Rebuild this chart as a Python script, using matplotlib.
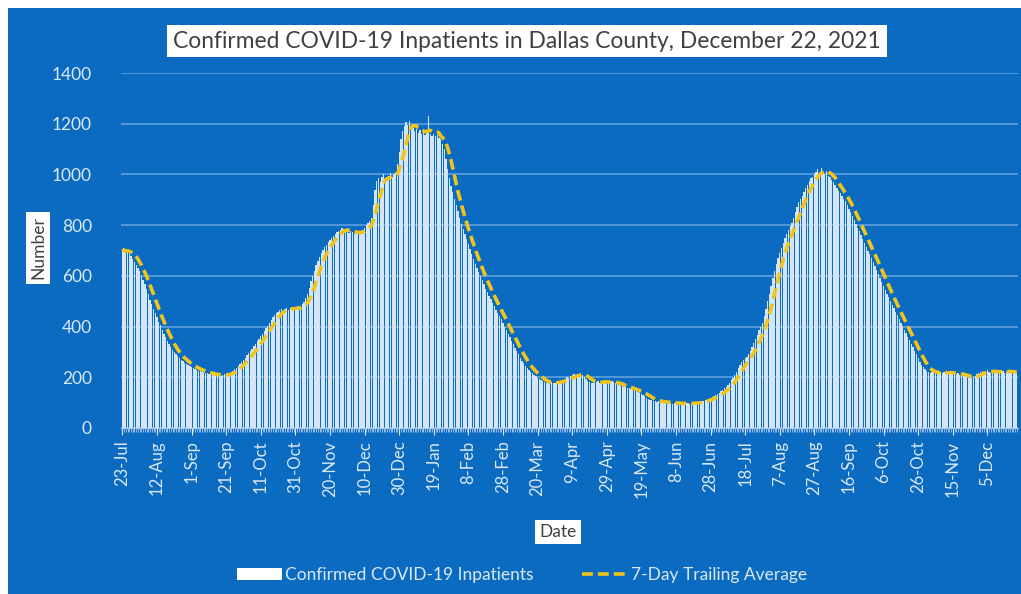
import pandas as pd
import matplotlib.pyplot as plt
from matplotlib.patches import Patch, Rectangle
from matplotlib.lines import Line2D
from matplotlib.ticker import MultipleLocator

plt.rcParams['font.family'] = ['Lato', 'DejaVu Sans']

# daily confirmed inpatients, 23-Jul-2020 .. 22-Dec-2021 (20 days per row)
inpatients = [
    705, 698, 690, 702, 688, 680, 668, 655, 642, 630, 618, 600, 585, 566, 548, 530, 505, 488, 470, 452,
    436, 420, 405, 388, 372, 358, 344, 330, 318, 308, 298, 290, 282, 276, 270, 264, 258, 252, 248, 244,
    240, 236, 232, 230, 226, 224, 222, 220, 218, 216, 214, 212, 212, 210, 208, 210, 208, 206, 210, 212,
    210, 214, 218, 222, 226, 232, 238, 246, 254, 262, 270, 278, 286, 295, 303, 312, 322, 332, 342, 350,
    362, 372, 384, 394, 402, 414, 424, 436, 446, 452, 458, 466, 470, 462, 470, 474, 466, 472, 478, 470,
    468, 476, 480, 474, 488, 498, 512, 530, 552, 578, 600, 620, 642, 660, 676, 690, 702, 714, 722, 732,
    742, 750, 758, 766, 772, 778, 782, 790, 786, 780, 774, 770, 778, 772, 766, 770, 768, 776, 772, 780,
    790, 800, 808, 818, 830, 880, 940, 975, 985, 970, 990, 1000, 985, 975, 995, 1005, 990, 1000, 1010, 1040,
    1090, 1140, 1170, 1190, 1205, 1195, 1210, 1190, 1185, 1170, 1180, 1165, 1175, 1160, 1170, 1155, 1165, 1230, 1160, 1150,
    1160, 1150, 1155, 1145, 1140, 1120, 1100, 1060, 1020, 985, 955, 930, 905, 880, 855, 830, 805, 785, 765, 745,
    725, 705, 685, 665, 648, 630, 614, 598, 582, 566, 550, 536, 522, 508, 494, 480, 466, 452, 440, 428,
    414, 400, 386, 372, 358, 344, 330, 316, 302, 290, 278, 266, 256, 246, 238, 230, 222, 216, 210, 204,
    198, 192, 188, 184, 180, 176, 178, 174, 180, 176, 178, 182, 186, 184, 190, 188, 194, 200, 196, 204,
    208, 212, 206, 214, 210, 216, 208, 200, 192, 186, 180, 176, 178, 182, 180, 184, 178, 182, 186, 180,
    184, 178, 182, 186, 180, 176, 172, 170, 166, 168, 162, 160, 158, 156, 152, 150, 148, 146, 142, 140,
    136, 132, 126, 120, 116, 112, 110, 108, 106, 104, 106, 102, 104, 100, 98, 102, 100, 98, 96, 100,
    98, 96, 100, 94, 98, 96, 100, 98, 94, 96, 100, 98, 102, 104, 100, 106, 108, 110, 112, 116,
    120, 122, 126, 130, 134, 138, 144, 150, 156, 162, 170, 178, 188, 198, 210, 222, 236, 248, 260, 270,
    276, 280, 290, 305, 320, 335, 350, 365, 385, 400, 414, 440, 470, 500, 530, 560, 590, 620, 645, 670,
    690, 710, 730, 750, 765, 780, 795, 810, 830, 850, 870, 890, 905, 915, 930, 945, 960, 975, 985, 990,
    1000, 1010, 1020, 1005, 1025, 1010, 1000, 1015, 995, 990, 980, 970, 960, 945, 935, 925, 915, 905, 895, 880,
    865, 850, 835, 820, 805, 790, 775, 760, 745, 730, 715, 700, 685, 670, 655, 640, 625, 608, 592, 576,
    560, 545, 530, 515, 500, 486, 472, 458, 444, 430, 416, 402, 388, 374, 360, 346, 332, 318, 304, 290,
    276, 262, 250, 240, 232, 226, 222, 218, 220, 216, 222, 218, 214, 220, 216, 222, 218, 214, 220, 216,
    218, 214, 212, 216, 210, 206, 212, 204, 200, 198, 202, 196, 200, 206, 212, 218, 222, 226, 220, 224,
    228, 222, 218, 224, 226, 220, 216, 222, 228, 224, 218, 222, 226, 220, 218, 224, 222, 216,
]

tick_labels = ['23-Jul', '12-Aug', '1-Sep', '21-Sep', '11-Oct', '31-Oct', '20-Nov', '10-Dec',
               '30-Dec', '19-Jan', '8-Feb', '28-Feb', '20-Mar', '9-Apr', '29-Apr', '19-May',
               '8-Jun', '28-Jun', '18-Jul', '7-Aug', '27-Aug', '16-Sep', '6-Oct', '26-Oct',
               '15-Nov', '5-Dec']

df = pd.DataFrame({"Inpatients": inpatients})
df["Avg7"] = df["Inpatients"].rolling(7, min_periods=1).mean()

bg = "#0b6bc1"
txt = "#dbe8f6"

fig = plt.figure(figsize=(10.21, 5.94), dpi=100, facecolor="white")
fig.patches.append(Rectangle((8 / 1021, 0), 1, 1 - 8 / 594, transform=fig.transFigure,
                             facecolor=bg, edgecolor="none", zorder=-10))

ax = fig.add_axes([121 / 1021, 1 - 428 / 594, (1018 - 121) / 1021, (428 - 73) / 594])
ax.set_facecolor(bg)

x = range(len(df))
ax.bar(x, df["Inpatients"], width=0.75, color="#d4e5f7", linewidth=0, zorder=2)
ax.plot(x, df["Avg7"], color="#f0c419", lw=2.6, linestyle=(0, (3, 1.4)), zorder=3)

ax.set_ylim(0, 1400)
ax.set_xlim(-0.8, len(df) - 0.3)
ax.yaxis.set_major_locator(MultipleLocator(200))
ax.grid(axis="y", color="#5d9fe0", lw=1.2, zorder=1)
ax.set_axisbelow(True)

ax.set_xticks(range(0, 20 * len(tick_labels), 20))
ax.set_xticklabels(tick_labels, rotation=90)
ax.xaxis.set_minor_locator(MultipleLocator(1))
ax.tick_params(axis="x", which="major", colors=txt, length=5, labelsize=12, pad=4)
ax.tick_params(axis="x", which="minor", colors="#a9c9ec", length=3, width=0.6)
ax.tick_params(axis="y", colors=txt, length=0, labelsize=12.5, pad=21)

for s in ["top", "right", "left"]:
    ax.spines[s].set_visible(False)
ax.spines["bottom"].set_color("#a9c9ec")

box = dict(boxstyle="square,pad=0.25", facecolor="white", edgecolor="none")
fig.text(527 / 1021, 1 - 41 / 594, "Confirmed COVID-19 Inpatients in Dallas County, December 22, 2021",
         ha="center", va="center", fontsize=16.4, color="#404040", bbox=box)
fig.text(38 / 1021, 1 - 248 / 594, "Number", rotation=90, ha="center", va="center",
         fontsize=12.5, color="#404040", bbox=box)
fig.text(558 / 1021, 1 - 532 / 594, "Date", ha="center", va="center",
         fontsize=12.5, color="#404040", bbox=box)

handles = [Patch(facecolor="white", edgecolor="none"),
           Line2D([], [], color="#f0c419", lw=2.6, linestyle=(0, (3, 1.4)))]
leg = fig.legend(handles, ["Confirmed COVID-19 Inpatients", "7-Day Trailing Average"],
                 loc="center", bbox_to_anchor=(522 / 1021, 1 - 575 / 594), ncol=2, frameon=False,
                 fontsize=12.5, handlelength=2.6, handletextpad=0.2, columnspacing=2.8)
for t in leg.get_texts():
    t.set_color(txt)

plt.savefig("out.png", dpi=100, facecolor=fig.get_facecolor())
